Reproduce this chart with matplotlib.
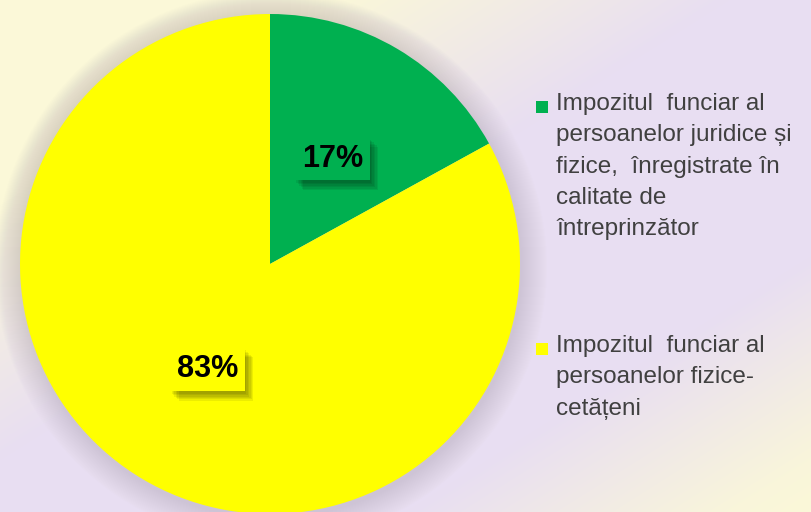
import numpy as np
import matplotlib
matplotlib.use('Agg')
import matplotlib.pyplot as plt
import matplotlib.patheffects as pe
from matplotlib.patches import Circle, Rectangle

# ---------- data ---------- #

shares = [17, 83]  # %
slice_colors = ['#00B050', '#FFFF00']
legend_labels = [
    'Impozitul  funciar al\npersoanelor juridice și\nfizice,  înregistrate în\ncalitate de\nîntreprinzător',
    'Impozitul  funciar al\npersoanelor fizice-\ncetățeni',
]

plt.rcParams['font.family'] = ['Liberation Sans', 'DejaVu Sans']

W, H = 811, 512
fig = plt.figure(figsize=(W/100, H/100), dpi=100)

# ---------- background gradient (cream -> lavender -> cream) ---------- #

cream = np.array([251, 248, 216])/255.
lav = np.array([232, 222, 242])/255.
yy, xx = np.mgrid[0:1:H*1j, 0:1:W*1j]
t = (xx + yy)/2
w = np.interp(t, [0, 0.2, 0.45, 0.75, 0.95, 1], [0, 0, 1, 1, 0.1, 0])
grad = cream*(1-w[..., None]) + lav*w[..., None]
bg = fig.add_axes([0, 0, 1, 1])
bg.imshow(grad, extent=[0, 1, 0, 1], aspect='auto')
bg.axis('off')

# ---------- pie ---------- #

ax = fig.add_axes([0, 0, 1, 1])
ax.patch.set_alpha(0)
cx, cy, r = 270, 248, 250

# soft shadow
for k in range(26, 0, -1):
    ax.add_patch(Circle((cx+1, cy-3), r+k, color='#6a6070', alpha=0.008, lw=0))

wedges, texts, autotexts = ax.pie(shares, colors=slice_colors, startangle=90,
    counterclock=False, center=(cx, cy), radius=r, autopct='%d%%',
    pctdistance=0.49, frame=False,
    textprops=dict(fontsize=22, fontweight='bold', color='black'))

blur = [pe.withSimplePatchShadow(offset=(d, -d-1), shadow_rgbFace='black',
        alpha=0.07) for d in (1, 2, 3, 4, 5, 6)]
for at, c in zip(autotexts, slice_colors):
    at.set_bbox(dict(boxstyle='square,pad=0.22', fc=c, ec='none'))
    at.get_bbox_patch().set_path_effects(blur + [pe.Normal()])

ax.set_xlim(0, W)
ax.set_ylim(0, H)
ax.axis('off')

# ---------- legend ---------- #

ys = [96, 338]
for lab, c, y in zip(legend_labels, slice_colors, ys):
    ax.add_patch(Rectangle((536, H-y-17), 12, 12, color=c, lw=0))
    ax.text(556, H-y+3, lab, ha='left', va='top', fontsize=17.5,
            color='#404040', linespacing=1.55)

fig.savefig('out.png', dpi=100)
